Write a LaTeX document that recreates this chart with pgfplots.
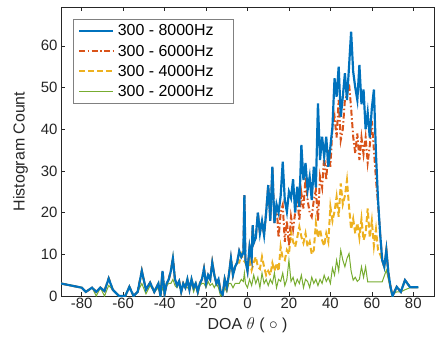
\documentclass[border=0pt]{standalone}
\usepackage{pgfplots}
\pgfplotsset{compat=1.18}
\usepackage{fontspec}
\setmainfont{Liberation Sans}
\definecolor{mblue}{rgb}{0,0.447,0.741}
\definecolor{morange}{rgb}{0.85,0.325,0.098}
\definecolor{myellow}{rgb}{0.929,0.694,0.125}
\definecolor{mgreen}{rgb}{0.466,0.674,0.188}
\definecolor{axgray}{rgb}{0.15,0.15,0.15}
\begin{document}
\begin{tikzpicture}
\begin{axis}[
  scale only axis, width=373bp, height=289bp,
  xmin=-90, xmax=90, ymin=0, ymax=69.3,
  xtick={-80,-60,...,80}, ytick={0,10,...,60},
  tick align=inside, major tick length=4bp,
  axis line style={axgray, line width=0.5pt},
  tick style={axgray, line width=0.5pt},
  every tick label/.append style={font=\fontsize{15}{17}\selectfont, text=axgray},
  /pgf/number format/assume math mode=true,
  xticklabel style={yshift=1bp},
  xlabel={DOA $\theta$ ( $\circ$ )}, ylabel={Histogram Count},
  label style={font=\fontsize{16}{18}\selectfont, text=axgray},
  xlabel style={yshift=-2bp}, ylabel style={yshift=6bp},
  reverse legend,
  legend style={at={(0.032,0.958)}, anchor=north west, draw=gray,
    font=\fontsize{16}{18}\selectfont, inner xsep=5bp, inner ysep=3.5bp, row sep=3.5bp},
  legend cell align=left,
  legend image code/.code={\draw[#1] (0bp,0bp) -- (34bp,0bp);},
]
\coordinate (sw) at (rel axis cs:0,0);
\coordinate (ne) at (rel axis cs:1,1);
% green 300-2000
\addplot[mgreen, line width=1pt] coordinates {
(-90,3) (-85,2.5) (-80,2) (-78,1) (-75,2) (-73,0) (-71,2) (-69,0) (-67,2.5) (-65,1.5) (-62,0) (-59,0) (-57,2.2) (-55,0) (-53,1) (-51,3) (-49,0.5) (-47,2.5) (-45,1) (-43,2) (-42,0) (-41,2) (-40,0.5) (-39,2.5) (-38,3) (-37,3) (-36,4) (-35,2.5) (-34,2) (-33,3) (-32,1) (-31,2.5) (-30,2) (-29,2) (-28,1.5) (-27,3) (-26,1) (-25,2.5) (-24,0.5) (-23,2.5) (-22,3) (-21,3) (-20,2) (-19,3.5) (-18,2.5) (-17,3) (-16,2) (-15,3) (-14,2) (-13,0) (-12,0.3) (-11,2) (-10,1) (-9,3) (-8,3) (-7,2) (-6,3) (-5,3) (-4,3) (-3,4) (-2,3.5) (-1.5,5.5) (-1,3) (0,2) (1,4) (2,2.5) (3,5) (4,3) (5,4.5) (6,2) (7,5.5) (8,3) (9,4) (10,2.5) (11,4) (12,3) (13,5.5) (14,2) (15,4) (16,3.5) (17,5.5) (18,2.5) (19,4) (20,8.6) (21,3.5) (22,4.5) (23,2.5) (24,4) (25,3) (26,5) (27,2) (28,4) (29,3.5) (30,2) (31,4.5) (32,3) (33,4) (34,2.5) (35,4) (36,3) (37,5) (38,3.5) (39,4.5) (40,3) (41,6.7) (42,5) (43,8.6) (44,6) (45,11) (46,8.6) (47,7) (48,9) (49,10.2) (50,6) (51,3.8) (52,4.5) (53,3.5) (54,4) (55,7) (56,4.5) (57,7) (58,3.4) (62,3.4) (65,3.4) (67,6.2) (69.6,0.3) (72,1) (74,1) (76,1.5) (78.5,2) (82.5,2)
};
\addlegendentry{\kern1.5bp 300 - 2000Hz\kern13bp}
% yellow 300-4000
\addplot[myellow, line width=2pt, dash pattern=on 6bp off 3bp] coordinates {
(-90,3) (-85,2.5) (-80,2) (-78,1) (-75,2) (-73,1) (-71,2) (-69,1.2) (-67,4.2) (-65,1.5) (-62,0) (-59,0) (-57,2.2) (-55,0) (-53,1) (-51,6) (-49,1.5) (-47,3.2) (-45,1) (-43,3) (-42,0) (-41,6) (-40,0.5) (-39,3) (-38,4) (-37,6) (-36,9) (-35,4) (-34,2.5) (-33,3.5) (-32,1) (-31,3) (-30,2) (-29,4) (-28,1.5) (-27,4) (-26,2) (-25,3) (-24,1) (-23,3) (-22,4) (-21,6.5) (-20,3) (-19,5) (-18,4) (-17,8) (-16,5) (-15,3) (-14,4) (-13,1) (-12,0.3) (-11,4) (-10,2) (-9,5) (-8,9) (-7,5) (-6,7) (-5,8)
(-4,8) (-3,10) (-2,8.6) (-1,8) (0,6.5) (1,8.6) (2,6.2) (3,8) (4,9.4) (5,7) (6,6.5) (7,9.4) (8,7) (9,5) (10,6) (11,5) (12,7.9) (13,6) (14,7.9) (15,6) (16,11.8) (17,9) (18,8.6) (19,11) (20,10) (21,15.4) (22,13) (23,11.8) (24,14) (25,16.6) (26,14.2) (27,12.7) (28,15) (29,11.8) (30,13) (31,10) (32,11) (33,17.5) (34,14) (35,16) (36,13.4) (37,12) (38,15) (39,13) (40,21.4) (41,18) (42,20.3) (43,23.8) (44,19) (45,27) (46,22) (47,24) (48,27.8) (49,21.4) (50,16) (51,18.5) (52,15) (53,17.5) (54,14) (55,18.5) (56,13.4) (57,15) (58,21) (59,14) (60,18) (61,12) (62,16) (63,11) (64,10)
(65,8.6) (66,7) (67,11) (68,5.5) (69,2.2) (70,0) (72,2.2) (74,1) (76,3.8) (78.5,2.1) (82.5,2.1)
};
\addlegendentry{\kern1.5bp 300 - 4000Hz\kern13bp}
% orange 300-6000
\addplot[morange, line width=2pt, dash pattern=on 6bp off 2.5bp on 1.5bp off 2.5bp] coordinates {
(-90,3) (-85,2.5) (-80,2) (-78,1) (-75,2) (-73,1) (-71,2) (-69,1.2) (-67,4.2) (-65,1.5) (-62,0) (-59,0) (-57,2.2) (-55,0) (-53,1) (-51,6) (-49,1.5) (-47,3.2) (-45,1) (-43,3) (-42,0) (-41,6) (-40,0.5) (-39,3) (-38,4) (-37,6) (-36,9) (-35,4) (-34,2.5) (-33,3.5) (-32,1) (-31,3) (-30,2) (-29,4) (-28,1.5) (-27,4) (-26,2) (-25,3) (-24,1) (-23,3) (-22,4) (-21,6.5) (-20,3) (-19,5) (-18,4) (-17,8) (-16,5) (-15,3) (-14,4) (-13,1) (-12,0.3) (-11,4) (-10,2) (-9,5) (-8,9) (-7,5) (-6,7) (-5,8) (-4,10.8) (-3,9.4) (-2,10.4) (-1.5,24.2) (-1,8.6) (0,6) (1,11.8) (2,9) (2.5,17) (3,12.7) (4,14) (5,20) (6,15) (7,18) (8,14.6) (9,20) (10,26.6) (11,18) (12,31) (13,17.5) (14,22)
(15,14) (16,20) (17,21.8) (18,13) (19,18) (20,12) (21,19) (22,16) (23,20) (24,24) (25,18) (26,24.7) (27,21) (28,28.6) (29,23) (30,20) (31,19) (32,23) (33,25.4) (34,18) (35,28.6) (36,26) (37,33.4) (38,27.8) (39,35) (40,31) (41,40.6) (42,43) (43,38) (44,47) (45,37.4) (46,40) (47,47) (48,48.2) (49,51) (50,45) (51,38.2) (52,34.2) (53,39) (54,32.6) (55,38) (56,34) (57,38) (58,32) (59,36) (60,42) (61,35) (62,28) (63,22)
(64,15) (65,8.6) (66,7) (67,11) (68,5.5) (69,2.2) (70,0) (72,2.2) (74,1) (76,3.8) (78.5,2.1) (82.5,2.1)
};
\addlegendentry{\kern1.5bp 300 - 6000Hz\kern13bp}
% blue 300-8000
\addplot[mblue, line width=2.2pt] coordinates {
(-90,3) (-85,2.5) (-80,2) (-78,1) (-75,2) (-73,1) (-71,2) (-69,1.2) (-67,4.2) (-65,1.5) (-62,0) (-59,0) (-57,2.2) (-55,0) (-53,1) (-51,6) (-49,1.5) (-47,3.2) (-45,1) (-43,3) (-42,0) (-41,6) (-40,0.5) (-39,3) (-38,4) (-37,6) (-36,9) (-35,4) (-34,2.5) (-33,3.5) (-32,1) (-31,3) (-30,2) (-29,4) (-28,1.5) (-27,4) (-26,2) (-25,3) (-24,1) (-23,3) (-22,4) (-21,6.5) (-20,3) (-19,5) (-18,4) (-17,8) (-16,5) (-15,3) (-14,4) (-13,1) (-12,0.3) (-11,4) (-10,2) (-9,5) (-8,9) (-7,5) (-6,7) (-5,8) (-4,10.8) (-3,9.4) (-2,10.4) (-1.5,24.2) (-1,8.6) (0,6) (1,11.8) (2,9) (2.5,17) (3,12.7) (4,14) (5,20) (6,15) (7,18) (8,14.6) (9,20) (10,26.6) (11,18) (12,31) (13,17.5) (14,22) (15,20) (16,24) (17,32.2) (18,23) (19,20.2) (20,25) (21,23.5) (22,28) (23,20) (24,26.2) (25,21.4) (26,36.2) (27,27.8) (28,31.9) (29,25.4) (30,28.6) (31,23) (32,31) (33,26) (34,46.2) (35,32.6) (36,38.2) (37,33.4) (38,38.2) (39,31) (40,35.8) (41,40.6) (42,52.2) (43,47.8) (44,55) (45,43) (46,47.8) (47,53.4) (48,47) (49,55) (50,63.4) (51,53.8) (52,50) (53,47) (54,55.4) (55,46) (56,49.5) (57,40) (58,44) (59,38) (60,45) (61,49.5) (62,34) (63,23) (64,15) (65,8.6) (66,7) (67,11) (68,5.5) (69,2.2) (70,0) (72,2.2) (74,1) (76,3.8) (78.5,2.1) (82.5,2.1)
};
\addlegendentry{\kern1.5bp 300 - 8000Hz\kern13bp}
\end{axis}
\path ([xshift=-61bp,yshift=-51bp]sw) rectangle ([xshift=4bp,yshift=7bp]ne);
\end{tikzpicture}
\end{document}
